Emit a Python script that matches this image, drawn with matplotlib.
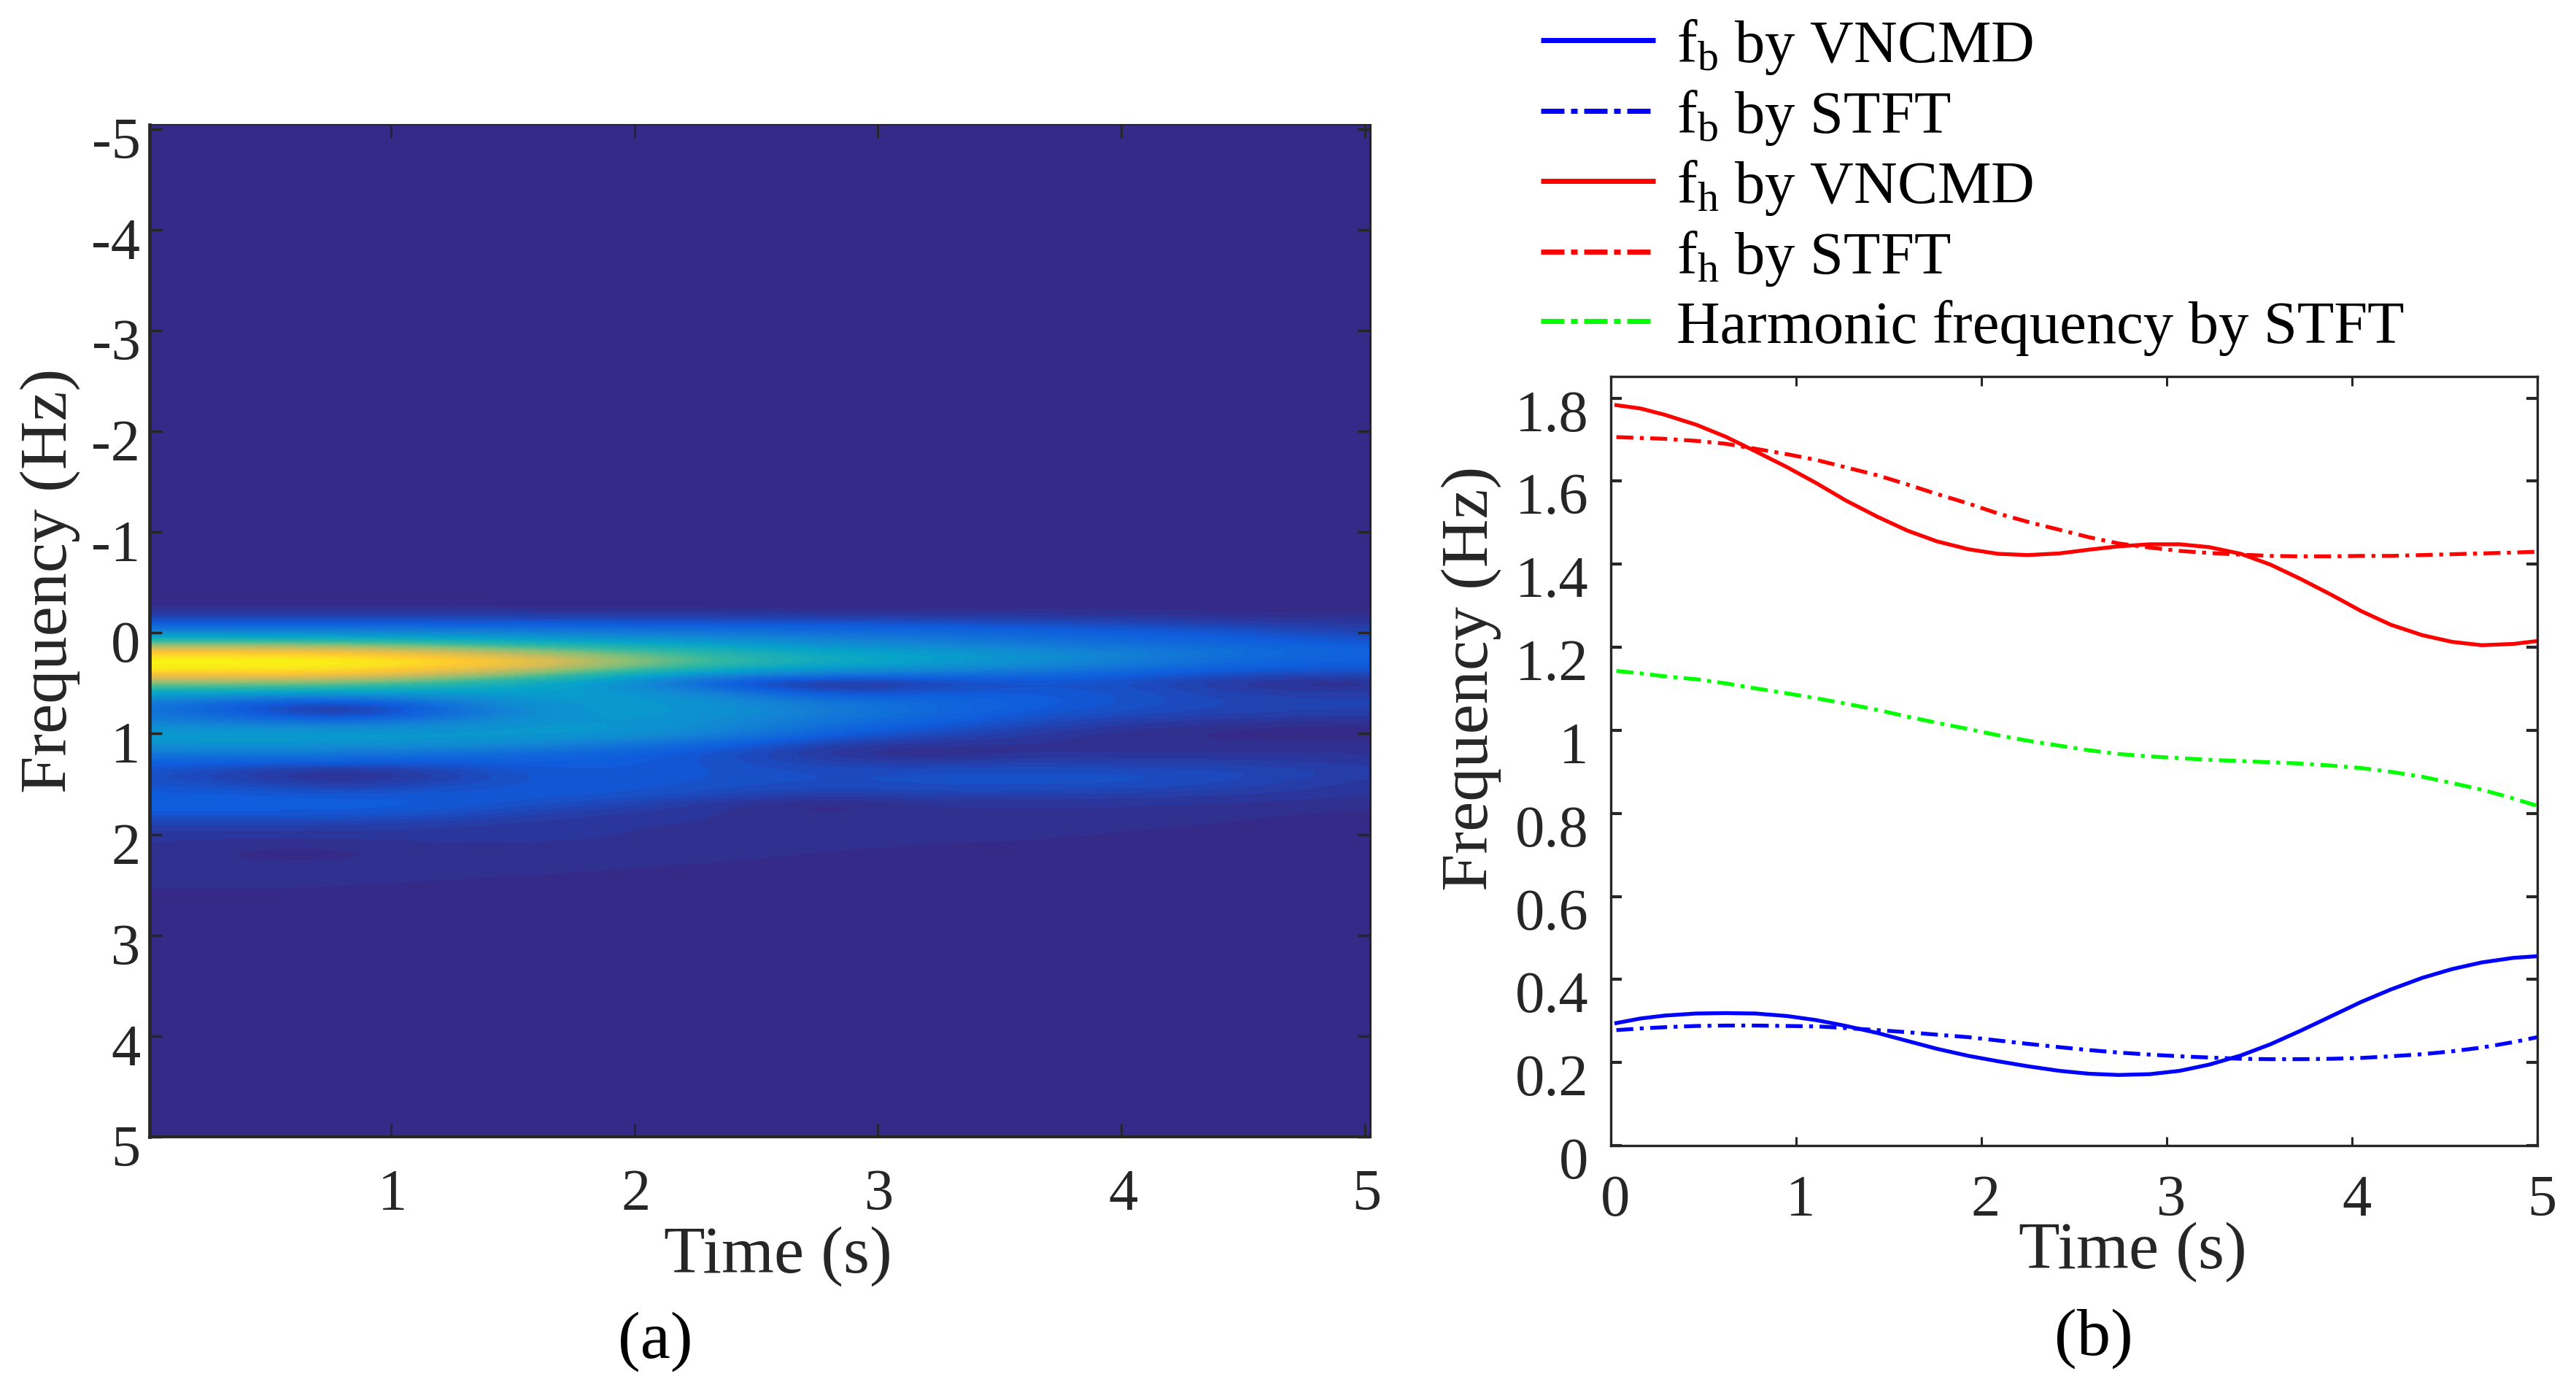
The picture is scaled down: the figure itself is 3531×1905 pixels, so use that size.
import matplotlib
matplotlib.use("Agg")
import matplotlib.pyplot as plt
import numpy as np
from matplotlib.colors import LinearSegmentedColormap
from matplotlib.lines import Line2D
from matplotlib.transforms import ScaledTranslation

plt.rcParams["font.family"] = ["Liberation Serif", "DejaVu Serif"]
plt.rcParams["mathtext.fontset"] = "custom"
plt.rcParams["mathtext.rm"] = "Liberation Serif"
plt.rcParams["mathtext.default"] = "rm"

# ---------------------------
# DATA, panel (a): spectrogram (0 = navy, 1 = yellow)
# ---------------------------
spec_times = [0, 0.4, 0.8, 1.2, 1.6, 2.0, 2.4, 2.8, 3.2, 3.6, 4.0, 4.4, 4.8, 5.2]
spec_freqs = [-0.3, -0.2, -0.1, 0.0, 0.1, 0.2, 0.3, 0.4, 0.5, 0.6, 0.7, 0.8, 0.9, 1.0, 1.1,
              1.2, 1.3, 1.4, 1.5, 1.6, 1.7, 1.8, 1.9, 2.0, 2.1, 2.2, 2.3, 2.4, 2.5, 2.6, 2.7]
spec_power = [
    [0, 0, 0, 0, 0, 0, 0, 0, 0, 0, 0, 0, 0, 0],
    [.04, .04, .04, .04, .03, .03, .03, .02, .02, .02, .02, .015, .01, .01],
    [.11, .11, .11, .11, .11, .10, .10, .10, .09, .08, .07, .05, .04, .04],
    [.26, .26, .26, .26, .24, .22, .21, .19, .18, .16, .14, .12, .08, .06],
    [.54, .54, .52, .48, .42, .38, .33, .28, .25, .21, .18, .16, .13, .11],
    [.90, .90, .87, .78, .66, .55, .46, .39, .36, .31, .26, .21, .17, .15],
    [1.0, 1.0, 1.0, .96, .87, .66, .52, .43, .38, .32, .25, .18, .14, .13],
    [.92, .92, .90, .79, .62, .45, .34, .27, .24, .20, .16, .11, .10, .10],
    [.62, .62, .60, .50, .40, .28, .06, .00, .05, .10, .09, .04, .00, .02],
    [.38, .38, .35, .36, .36, .34, .24, .09, .12, .13, .11, .07, .05, .06],
    [.24, .12, .06, .20, .32, .35, .30, .23, .18, .14, .11, .08, .07, .07],
    [.21, .13, .00, .15, .30, .35, .31, .24, .18, .12, .09, .07, .06, .06],
    [.27, .24, .22, .27, .33, .33, .28, .20, .14, .09, .05, .03, .02, .02],
    [.35, .36, .35, .34, .35, .33, .25, .15, .09, .05, .02, .01, .00, .00],
    [.33, .34, .33, .32, .29, .22, .15, .06, .04, .03, .02, .02, .02, .02],
    [.21, .23, .22, .19, .17, .14, .09, .03, .00, .03, .03, .03, .03, .03],
    [.14, .12, .11, .12, .13, .13, .10, .07, .06, .07, .06, .06, .05, .04],
    [.10, .05, .00, .05, .12, .12, .11, .09, .10, .10, .10, .09, .07, .04],
    [.11, .08, .04, .08, .12, .12, .10, .09, .10, .10, .10, .08, .05, .03],
    [.13, .13, .11, .12, .12, .11, .08, .06, .07, .07, .06, .05, .04, .03],
    [.14, .14, .14, .13, .10, .07, .03, .00, .03, .03, .03, .03, .02, .02],
    [.12, .12, .12, .10, .06, .04, .03, .01, .03, .03, .03, .02, .014, .012],
    [.06, .06, .06, .05, .04, .03, .03, .03, .03, .025, .02, .015, .01, .008],
    [.04, .04, .04, .04, .035, .03, .03, .025, .02, .02, .014, .01, .006, .004],
    [.03, .02, .02, .03, .03, .03, .025, .02, .016, .014, .01, .006, .003, .00],
    [.025, .01, .008, .025, .025, .02, .02, .013, .01, .008, .005, .002, .00, .00],
    [.022, .02, .02, .022, .022, .018, .014, .01, .006, .004, .00, .00, .00, .00],
    [.022, .022, .022, .02, .016, .012, .01, .006, .00, .00, .00, .00, .00, .00],
    [.02, .02, .018, .012, .01, .006, .003, .00, .00, .00, .00, .00, .00, .00],
    [.01, .01, .008, .005, .003, .00, .00, .00, .00, .00, .00, .00, .00, .00],
    [0, 0, 0, 0, 0, 0, 0, 0, 0, 0, 0, 0, 0, 0],
]
parula_colors = ["#352a87", "#0f5cdd", "#1481d6", "#06a4ca", "#2eb7a4",
                 "#87bf77", "#d1bb59", "#fec832", "#f9fb0e"]

# ---------------------------
# DATA, panel (b)
# ---------------------------
time_s = [0.03, 0.16, 0.29, 0.46, 0.62, 0.78, 0.95, 1.11, 1.27, 1.44, 1.60, 1.76, 1.93, 2.09, 2.25, 2.42,
          2.58, 2.74, 2.91, 3.07, 3.23, 3.40, 3.56, 3.72, 3.89, 4.05, 4.21, 4.38, 4.54, 4.70, 4.87, 5.0]
fh_vncmd = [1.783, 1.775, 1.76, 1.736, 1.707, 1.672, 1.634, 1.595, 1.553, 1.514, 1.481, 1.455, 1.436, 1.425, 1.422, 1.426,
            1.435, 1.443, 1.448, 1.448, 1.441, 1.425, 1.399, 1.365, 1.326, 1.287, 1.254, 1.229, 1.213, 1.205, 1.208, 1.215]
fh_stft = [1.706, 1.704, 1.702, 1.697, 1.69, 1.678, 1.665, 1.651, 1.633, 1.614, 1.592, 1.569, 1.546, 1.522, 1.502, 1.483,
           1.465, 1.45, 1.44, 1.432, 1.427, 1.423, 1.42, 1.419, 1.419, 1.42, 1.42, 1.422, 1.424, 1.426, 1.428, 1.43]
harmonic_stft = [1.143, 1.137, 1.13, 1.123, 1.113, 1.101, 1.089, 1.077, 1.064, 1.049, 1.033, 1.018, 1.003, 0.988, 0.975, 0.963,
                 0.952, 0.943, 0.937, 0.933, 0.929, 0.926, 0.923, 0.92, 0.915, 0.909, 0.9, 0.888, 0.873, 0.857, 0.836, 0.818]
fb_vncmd = [0.295, 0.306, 0.313, 0.318, 0.319, 0.318, 0.312, 0.302, 0.288, 0.271, 0.252, 0.233, 0.216, 0.203, 0.191, 0.18,
            0.173, 0.17, 0.172, 0.18, 0.195, 0.217, 0.244, 0.276, 0.312, 0.346, 0.376, 0.404, 0.425, 0.441, 0.452, 0.456]
fb_stft = [0.278, 0.282, 0.285, 0.288, 0.289, 0.289, 0.288, 0.287, 0.283, 0.278, 0.273, 0.267, 0.261, 0.253, 0.245, 0.237,
           0.23, 0.224, 0.219, 0.215, 0.212, 0.209, 0.208, 0.208, 0.209, 0.211, 0.215, 0.22, 0.227, 0.236, 0.249, 0.261]

left_yticks = [-5, -4, -3, -2, -1, 0, 1, 2, 3, 4, 5]
left_xticks = [1, 2, 3, 4, 5]
right_yticks = [0, 0.2, 0.4, 0.6, 0.8, 1, 1.2, 1.4, 1.6, 1.8]
right_ylabels = ["0", "0.2", "0.4", "0.6", "0.8", "1", "1.2", "1.4", "1.6", "1.8"]
right_xticks = [0, 1, 2, 3, 4, 5]

W, H = 3531, 1906
DPI = 100
AX_COLOR = "#262626"
TICK_SIZE = 58
LABEL_SIZE = 66.5
LEGEND_SIZE = 59.5


def axes_from_pixels(fig, x0, x1, y_top, y_bottom):
    return fig.add_axes([x0 / W, 1 - y_bottom / H, (x1 - x0) / W, (y_bottom - y_top) / H])


def shift_labels(labels, dx, dy, fig):
    # MATLAB figure was rescaled, labels sit a little off their ticks
    offset = ScaledTranslation(dx / DPI, -dy / DPI, fig.dpi_scale_trans)
    for lab in labels:
        lab.set_transform(lab.get_transform() + offset)


def set_label_px(axis, x, y):
    axis.set_label_coords(x / W, 1 - y / H, transform=fig.transFigure)
    axis.label.set_ha("center")
    axis.label.set_va("center")


fig = plt.figure(figsize=(W / DPI, H / DPI), dpi=DPI)

# ---------------------------
# (a) SPECTROGRAM
# ---------------------------
ax_a = axes_from_pixels(fig, 205, 1878, 172, 1559)
# 64 levels like the default MATLAB colormap, gives the same banding
parula = LinearSegmentedColormap.from_list("parula_like", parula_colors, N=64)
ax_a.set_facecolor(parula_colors[0])
ax_a.imshow(np.array(spec_power), cmap=parula, vmin=0, vmax=1, aspect="auto", interpolation="bicubic",
            extent=(spec_times[0] - 0.2, spec_times[-1] + 0.2, spec_freqs[-1] + 0.05, spec_freqs[0] - 0.05))
ax_a.set_xlim(0.01, 5.02)
ax_a.set_ylim(5.0, -5.04)
ax_a.set_xticks(left_xticks)
ax_a.set_yticks(left_yticks)
ax_a.set_yticklabels([str(v) for v in left_yticks])
ax_a.tick_params(axis="x", direction="in", top=True, length=13, width=2, pad=31, labelsize=TICK_SIZE, color=AX_COLOR, labelcolor=AX_COLOR)
ax_a.tick_params(axis="y", direction="in", right=True, length=12, width=2.5, pad=9, labelsize=TICK_SIZE, color=AX_COLOR, labelcolor=AX_COLOR)
shift_labels(ax_a.get_xticklabels(), 2, 0, fig)
shift_labels(ax_a.get_yticklabels(), 0, 11, fig)
ax_a.set_xlabel("Time (s)", fontsize=LABEL_SIZE, color=AX_COLOR)
ax_a.set_ylabel("Frequency (Hz)", fontsize=LABEL_SIZE, color=AX_COLOR)
set_label_px(ax_a.xaxis, 1066, 1722)
set_label_px(ax_a.yaxis, 69, 796)
for name, lw in [("left", 3.4), ("bottom", 3), ("top", 1.5), ("right", 2.2)]:
    ax_a.spines[name].set_linewidth(lw)
    ax_a.spines[name].set_color(AX_COLOR)

# ---------------------------
# (b) FREQUENCY CURVES
# ---------------------------
ax_b = axes_from_pixels(fig, 2208, 3478, 517, 1571)
dash_dot = (0, (4.4, 1.7, 1, 1.7))
ax_b.plot(time_s, fb_vncmd, color="#0000ff", lw=3.8)
ax_b.plot(time_s, fb_stft, color="#0000ff", lw=3.8, linestyle=dash_dot)
ax_b.plot(time_s, fh_vncmd, color="#ff0000", lw=3.8)
ax_b.plot(time_s, fh_stft, color="#ff0000", lw=3.8, linestyle=dash_dot)
ax_b.plot(time_s, harmonic_stft, color="#00ff00", lw=3.8, linestyle=dash_dot)
ax_b.set_xlim(0, 5)
ax_b.set_ylim(0, 1.852)
ax_b.set_xticks(right_xticks)
ax_b.set_yticks(right_yticks)
ax_b.set_yticklabels(right_ylabels)
ax_b.tick_params(axis="x", direction="in", top=True, length=9, width=2.2, pad=28, labelsize=TICK_SIZE, color=AX_COLOR, labelcolor=AX_COLOR)
ax_b.tick_params(axis="y", direction="in", right=True, length=11, width=3, pad=22, labelsize=TICK_SIZE, color=AX_COLOR, labelcolor=AX_COLOR)
shift_labels(ax_b.get_xticklabels(), 6, 0, fig)
shift_labels(ax_b.get_yticklabels(), 0, 16, fig)
ax_b.set_xlabel("Time (s)", fontsize=LABEL_SIZE, color=AX_COLOR)
ax_b.set_ylabel("Frequency (Hz)", fontsize=LABEL_SIZE, color=AX_COLOR)
set_label_px(ax_b.xaxis, 2923, 1716)
set_label_px(ax_b.yaxis, 2017, 930)
for spine in ax_b.spines.values():
    spine.set_linewidth(2.4)
    spine.set_color(AX_COLOR)

# ---------------------------
# LEGEND
# ---------------------------
leg_dash = (0, (4.6, 1.3, 1.3, 1.3))
handles = [
    Line2D([], [], color="#0000ff", lw=5, solid_capstyle="butt"),
    Line2D([], [], color="#0000ff", lw=5, linestyle=leg_dash),
    Line2D([], [], color="#ff0000", lw=5, solid_capstyle="butt"),
    Line2D([], [], color="#ff0000", lw=5, linestyle=leg_dash),
    Line2D([], [], color="#00ff00", lw=5, linestyle=leg_dash),
]
legend_labels = ["f$_{b}$ by VNCMD", "f$_{b}$ by STFT", "f$_{h}$ by VNCMD", "f$_{h}$ by STFT", "Harmonic frequency by STFT"]
px_per_em = LEGEND_SIZE * DPI / 72
fig.legend(handles, legend_labels, loc="upper left", bbox_to_anchor=(2112 / W, 1 - 24 / H),
           frameon=False, fontsize=LEGEND_SIZE, borderpad=0, borderaxespad=0,
           handlelength=157 / px_per_em, handletextpad=29 / px_per_em,
           labelspacing=0.19, labelcolor="black")

fig.text(898 / W, 1 - 1839 / H, "(a)", fontsize=LABEL_SIZE, ha="center", va="center", color="black")
fig.text(2870 / W, 1 - 1835 / H, "(b)", fontsize=LABEL_SIZE, ha="center", va="center", color="black")

fig.savefig("out.png", dpi=DPI)
